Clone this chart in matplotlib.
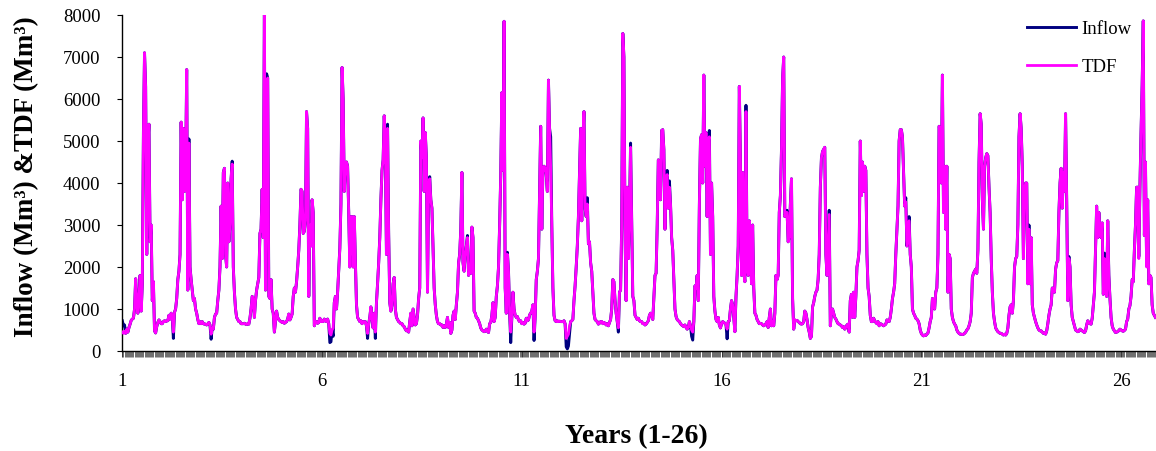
import numpy as np
import matplotlib
matplotlib.use("Agg")
import matplotlib.pyplot as plt

# -------------------------
# data: 10-daily values, 36 per year (last year cut off at the right edge)
# -------------------------
tdf = [
    # year 1
    450, 420, 470, 420, 520, 450, 560, 640, 730, 760, 780, 1000, 1720, 1150, 900, 1300, 1800, 950,
    1600, 5200, 7100, 6300, 2300, 4900, 5400, 2600, 3000, 1200, 1650, 480, 430, 580, 680, 740, 700, 650,
    # year 2
    650, 700, 720, 700, 720, 720, 850, 760, 900, 800, 450, 920, 1000, 1250, 1700, 1900, 2300, 5450,
    3600, 5300, 3800, 4200, 6700, 1450, 4950, 2000, 1700, 1450, 1200, 1250, 1000, 900, 750, 650, 700, 650,
    # year 3
    700, 650, 640, 640, 620, 640, 680, 620, 400, 550, 520, 800, 880, 900, 1200, 1450, 2000, 3450,
    2200, 4250, 4350, 2300, 2000, 4000, 2600, 3000, 4100, 4450, 2000, 1400, 1000, 800, 750, 700, 700, 650,
    # year 4
    650, 650, 660, 640, 630, 650, 640, 780, 1000, 1300, 1250, 800, 1200, 1450, 1600, 1750, 2800, 2900,
    3850, 2700, 8000, 1450, 6200, 6500, 1300, 1250, 1700, 1000, 900, 450, 700, 950, 800, 750, 720, 700,
    # year 5
    680, 700, 660, 680, 700, 760, 880, 740, 800, 880, 1300, 1500, 1400, 1650, 2000, 2400, 3000, 3850,
    3800, 2800, 2850, 3100, 5700, 5300, 1300, 3000, 2500, 3600, 3300, 600, 700, 700, 660, 680, 780, 700,
    # year 6
    720, 700, 760, 720, 700, 760, 650, 420, 380, 500, 550, 1150, 1300, 1000, 1400, 1950, 2450, 3500,
    6750, 6000, 3800, 4400, 4500, 4400, 3300, 2000, 3200, 3200, 2000, 3200, 2200, 1100, 800, 750, 700, 720,
    # year 7
    650, 700, 680, 700, 600, 420, 650, 800, 1050, 800, 550, 900, 450, 1150, 1600, 2100, 2700, 3600,
    4300, 4550, 5600, 4900, 2300, 5300, 2800, 1150, 950, 1100, 1600, 1750, 1000, 800, 750, 700, 680, 650,
    # year 8
    650, 600, 580, 520, 480, 500, 450, 700, 900, 600, 1000, 800, 620, 650, 850, 1250, 1500, 5000,
    4600, 5550, 3800, 5200, 4600, 1400, 3900, 4100, 3600, 3400, 2400, 1500, 1100, 850, 700, 650, 650, 620,
    # year 9
    620, 560, 600, 560, 640, 800, 560, 680, 420, 500, 850, 950, 750, 1100, 1400, 2100, 2300, 2900,
    4250, 2100, 1900, 2300, 2500, 2700, 1800, 1900, 1850, 2950, 2700, 950, 900, 800, 780, 720, 650, 550,
    # year 10
    500, 480, 460, 470, 520, 470, 440, 650, 680, 850, 1150, 700, 800, 1300, 1550, 2000, 3000, 4200,
    6150, 4300, 7850, 1500, 900, 2300, 1900, 900, 450, 800, 1400, 1000, 850, 800, 820, 740, 700, 720,
    # year 11
    650, 680, 640, 660, 780, 720, 740, 860, 900, 950, 1100, 450, 800, 1700, 1900, 2200, 3800, 5350,
    2900, 4300, 4400, 4350, 4200, 3800, 6450, 5300, 4350, 3000, 1500, 850, 720, 700, 720, 700, 710, 700,
    # year 12
    700, 700, 720, 650, 300, 350, 400, 600, 700, 720, 750, 1200, 1550, 2000, 2500, 3200, 4300, 5300,
    3100, 5000, 5700, 3400, 3200, 3500, 2550, 2600, 2100, 1900, 1400, 900, 750, 720, 700, 640, 660, 700,
    # year 13
    700, 650, 680, 660, 620, 650, 600, 680, 750, 1000, 1700, 1650, 1200, 900, 700, 550, 1400, 1450,
    3000, 7560, 7000, 2800, 1200, 3900, 2200, 3300, 4850, 3100, 1300, 1200, 850, 800, 750, 780, 720, 700,
    # year 14
    700, 650, 660, 620, 640, 680, 720, 850, 900, 880, 750, 1300, 1800, 1850, 3000, 4550, 4500, 3600,
    5250, 5270, 4800, 2900, 4100, 4200, 3400, 3900, 3500, 2700, 2400, 1700, 1000, 820, 750, 720, 700, 650,
    # year 15
    620, 600, 580, 620, 560, 520, 560, 700, 600, 500, 450, 700, 1550, 1500, 1800, 1200, 3500, 5050,
    5150, 4000, 6570, 4400, 5200, 3200, 5000, 5100, 2300, 4000, 3200, 1300, 950, 750, 700, 800, 620, 550,
    # year 16
    650, 700, 680, 660, 620, 520, 700, 720, 1000, 1200, 1100, 800, 460, 1300, 1800, 2500, 6300, 4500,
    1800, 4250, 1900, 1650, 5700, 2000, 1800, 3100, 2400, 1600, 3000, 1500, 900, 850, 750, 700, 650, 660,
    # year 17
    650, 620, 600, 620, 650, 700, 560, 800, 1000, 600, 700, 600, 900, 1800, 1700, 1800, 3300, 3700,
    4800, 6500, 7000, 3200, 3300, 3300, 2600, 2700, 3500, 4100, 1250, 520, 740, 720, 730, 700, 680, 650,
    # year 18
    640, 650, 700, 950, 900, 750, 560, 450, 300, 350, 1050, 1150, 1300, 1400, 1450, 1700, 2300, 3900,
    4600, 4750, 4800, 4850, 2300, 1800, 2500, 3250, 600, 900, 1000, 900, 800, 760, 700, 650, 640, 620,
    # year 19
    600, 560, 580, 520, 560, 620, 640, 450, 1200, 1350, 800, 1400, 800, 1300, 2000, 2150, 2400, 5000,
    3700, 4500, 3800, 4400, 4300, 2300, 1500, 1300, 850, 700, 700, 780, 720, 680, 650, 700, 600, 650,
    # year 20
    640, 620, 600, 620, 640, 740, 720, 700, 800, 1000, 1250, 1400, 1600, 2300, 2900, 3450, 5000, 5270,
    5270, 5100, 4300, 3450, 3550, 2500, 2800, 3100, 2300, 2000, 1000, 900, 850, 780, 760, 720, 650, 500,
    # year 21
    420, 380, 360, 380, 370, 400, 430, 550, 700, 800, 1250, 1150, 1000, 1400, 1500, 2300, 5350, 5300,
    4000, 6570, 3300, 4400, 2900, 4400, 1400, 2300, 2200, 1000, 800, 700, 640, 600, 500, 450, 420, 400,
    # year 22
    400, 390, 400, 420, 450, 500, 530, 600, 700, 900, 1750, 1850, 1900, 1950, 1850, 2400, 4500, 5650,
    5400, 3600, 2900, 4400, 4600, 4700, 4650, 3900, 3300, 2200, 1400, 900, 700, 550, 500, 460, 440, 420,
    # year 23
    420, 400, 380, 400, 380, 420, 550, 850, 1050, 1100, 900, 1200, 2000, 2200, 2250, 3000, 5100, 5650,
    5300, 4400, 2200, 3800, 4000, 4000, 1600, 2900, 1600, 2700, 1100, 900, 800, 700, 620, 550, 500, 480,
    # year 24
    480, 450, 420, 430, 400, 480, 650, 850, 1000, 1100, 1500, 1450, 1400, 1950, 2100, 2150, 3300, 4000,
    4350, 3400, 4250, 3800, 5650, 3600, 1200, 2200, 2000, 1100, 800, 700, 600, 500, 480, 460, 470, 520,
    # year 25
    500, 480, 460, 440, 480, 620, 720, 680, 650, 640, 780, 1100, 1400, 2400, 3450, 2700, 3300, 2900,
    2700, 3050, 1350, 2200, 1700, 1300, 3100, 1800, 1250, 800, 600, 520, 480, 440, 450, 460, 490, 520,
    # year 26 (visible part)
    500, 480, 470, 490, 520, 700, 760, 1000, 1080, 1300, 1700, 1650, 2400, 3000, 3900, 3900, 2200, 3900,
    5200, 6330, 7860, 2750, 4500, 2000, 3600, 1600, 1800, 1750, 1100, 900, 850, 800,
]

# inflow follows TDF except where the navy line shows through: (year, step, value)
inflow_diffs = [
    (1, 0, 720), (1, 1, 600), (1, 2, 620),
    (2, 10, 300), (2, 24, 5050),
    (3, 8, 280), (3, 27, 4520),
    (4, 22, 6600),
    (6, 7, 200), (6, 8, 220), (6, 10, 350),
    (7, 5, 300), (7, 12, 300), (7, 23, 5400),
    (8, 25, 4150),
    (9, 23, 2750),
    (10, 23, 2350), (10, 26, 200),
    (11, 11, 250), (11, 26, 5100),
    (12, 4, 100), (12, 5, 50), (12, 6, 120), (12, 7, 400), (12, 23, 3650),
    (13, 15, 450), (13, 26, 4950),
    (14, 23, 4300), (14, 25, 4050),
    (15, 9, 350), (15, 10, 260), (15, 25, 5250),
    (16, 5, 290), (16, 22, 5850),
    (17, 23, 3350),
    (18, 25, 3350),
    (20, 22, 3650), (20, 25, 3200),
    (23, 25, 3000),
    (24, 25, 2250),
    (25, 21, 2330),
    (26, 16, 2250), (26, 23, 2100),
]

year_labels = ["1", "6", "11", "16", "21", "26"]
steps_per_year = 36

tdf = np.array(tdf, dtype=float)
inflow = tdf.copy()
for yr, step, val in inflow_diffs:
    inflow[(yr - 1) * steps_per_year + step] = val

x = np.arange(len(tdf))

# -------------------------
# style
# -------------------------
plt.rcParams.update({
    "font.family": ["Liberation Serif", "DejaVu Serif"],
    "font.size": 13.5,
})

W, H = 1156, 452
fig = plt.figure(figsize=(W / 100, H / 100), dpi=100)
ax = fig.add_axes([122 / W, 100 / H, (W - 122) / W, 336 / H])

ax.plot(x, inflow, color="#000080", linewidth=2.1, label="Inflow", zorder=2)
ax.plot(x, tdf, color="#FF00FF", linewidth=2.0, label="TDF", zorder=3)

ax.set_ylim(0, 8000)
ax.set_xlim(-0.3, (W - 122) / 1.1097 - 0.3)
ax.set_yticks(np.arange(0, 8001, 1000))

major = [int(lab) - 1 for lab in year_labels]
ax.set_xticks([m * steps_per_year for m in major])
ax.set_xticklabels(year_labels)
ax.set_xticks(x, minor=True)

ax.tick_params(axis="x", which="major", length=4, width=0.7, color="#333333", pad=11, labelsize=13.5)
ax.tick_params(axis="x", which="minor", length=4, width=0.6, color="#555555")
ax.tick_params(axis="y", length=3.6, width=0.8, pad=12, labelsize=13.5)

for side in ["top", "right"]:
    ax.spines[side].set_visible(False)
ax.spines["left"].set_linewidth(1.0)
ax.spines["bottom"].set_linewidth(1.0)

fig.text(636 / W, 1 - 437 / H, "Years (1-26)", ha="center", va="center",
         fontsize=20, fontweight="bold")
fig.text(27 / W, 1 - 177 / H, "Inflow (Mm³) &TDF (Mm³)", ha="center", va="center",
         rotation=90, fontsize=19.5, fontweight="bold")

ax.legend(loc="upper left", bbox_to_anchor=(1027 / W, 1 - 21 / H),
          bbox_transform=fig.transFigure, frameon=False, fontsize=13.5,
          handlelength=2.6, handletextpad=0.3, labelspacing=1.12,
          borderpad=0, borderaxespad=0)

fig.savefig("out.png", dpi=100)
